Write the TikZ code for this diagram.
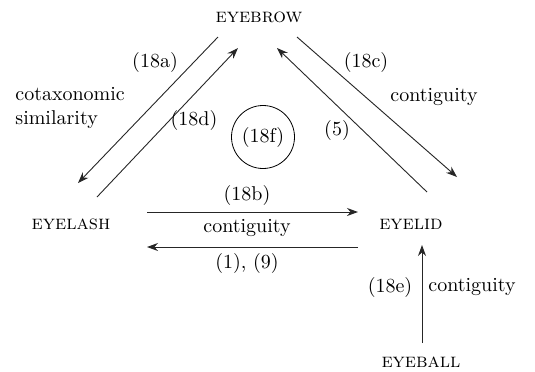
\documentclass[tikz,border=0pt]{standalone}
\usepackage{amsmath}
\usepackage{tikz}
\usetikzlibrary{arrows.meta}

\tikzset{
    word/.style={font=\normalsize\scshape, inner sep=1pt},
    lab/.style={font=\normalsize, inner sep=1pt},
    arr/.style={-{Stealth[length=5.5pt,width=4pt]}, black!85, line width=0.45pt}
}

\begin{document}
\begin{tikzpicture}[x=0.5pt, y=-0.5pt]
    \useasboundingbox (0,0) rectangle (535,371);

    % the four words
    \node[word] (brow) at (259,17)  {eyebrow};
    \node[word] (lash) at (71,224)  {eyelash};
    \node[word] (lid)  at (411,224) {eyelid};
    \node[word] (ball) at (421,362) {eyeball};

    % arrow ends
    \coordinate (a1) at (218,37);  \coordinate (a2) at (78,183);
    \coordinate (d1) at (97,197);  \coordinate (d2) at (238,48);
    \coordinate (c1) at (297,37);  \coordinate (c2) at (457,177);
    \coordinate (f1) at (427,192); \coordinate (f2) at (277,48);
    \coordinate (b1) at (147,212); \coordinate (b2) at (358,212);
    \coordinate (n1) at (358,247); \coordinate (n2) at (147,247);
    \coordinate (e1) at (422,343); \coordinate (e2) at (422,245);

    % left side
    \draw[arr] (a1) -- (a2);
    \draw[arr] (d1) -- (d2);
    \node[lab] (l18a) at (155,62) {(18a)};
    \node[lab, anchor=west, align=left] (cotax) at (13,108) {cotaxonomic\\similarity};
    \node[lab] (l18d) at (194,120) {(18d)};

    % middle
    \node[lab, draw, circle, minimum size=31.5pt, inner sep=0pt] (l18f) at (263,137) {(18f)};

    % right side
    \draw[arr] (c1) -- (c2);
    \draw[arr] (f1) -- (f2);
    \node[lab] (l18c) at (366,62) {(18c)};
    \node[lab] (cont1) at (434,97) {contiguity};
    \node[lab] (l5) at (337,130) {(5)};

    % bottom
    \draw[arr] (b1) -- (b2);
    \draw[arr] (n1) -- (n2);
    \node[lab] (l18b) at (247,195) {(18b)};
    \node[lab] (cont2) at (247,228) {contiguity};
    \node[lab] (l19) at (247,263) {(1), (9)};

    \draw[arr] (e1) -- (e2);
    \node[lab] (l18e) at (390,287) {(18e)};
    \node[lab] (cont3) at (472,287) {contiguity};
\end{tikzpicture}
\end{document}
